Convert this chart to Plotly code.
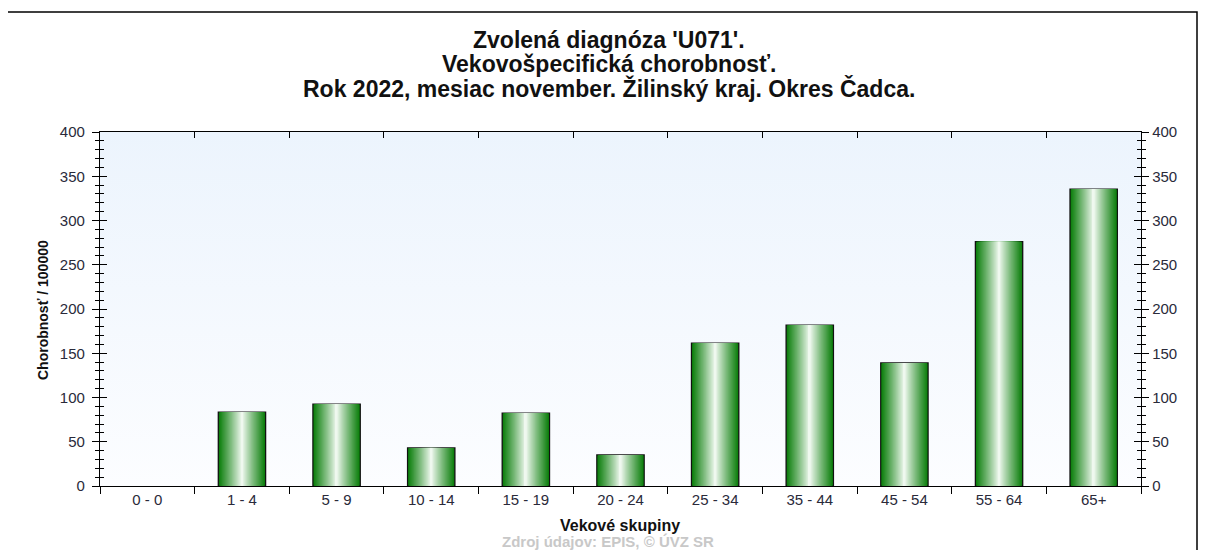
import base64
import plotly.graph_objects as go

# ---- data ----
categories = ["0 - 0", "1 - 4", "5 - 9", "10 - 14", "15 - 19", "20 - 24",
              "25 - 34", "35 - 44", "45 - 54", "55 - 64", "65+"]
values = [0, 83.4, 92.5, 43, 82.3, 35, 161.4, 181.7, 139, 276, 335.5]
y_ticks = [0, 50, 100, 150, 200, 250, 300, 350, 400]

title_lines = ["Zvolená diagnóza 'U071'.",
               "Vekovošpecifická chorobnosť.",
               "Rok 2022, mesiac november. Žilinský kraj. Okres Čadca."]
y_title = "Chorobnosť / 100000"
x_title = "Vekové skupiny"
source_text = "Zdroj údajov: EPIS, © ÚVZ SR"

FONT = "Arial, Liberation Sans, sans-serif"

# the page body has an 8px margin; work in window pixels and shift
OFF = 8
FW, FH = 1208 - OFF, 550 - OFF
# plot area in window pixels
L, R, T, B = 100, 1141, 132, 486
W, H = R - L, B - T


def py(p):
    """window pixel row -> paper y"""
    return (B - p) / H


def px(p):
    """window pixel column -> paper x"""
    return (p - L) / W


fig = go.Figure()

# gradient bars simulated by overlaid bars of decreasing width
N = 26
edge = (10, 125, 10)
center = (252, 255, 252)
outline_w = [0 if v == 0 else 1.3 for v in values]
for k in range(N):
    d = (N - k) / N  # 1 = edge, ~0 = centre
    f = d ** 0.9
    c = tuple(int(round(center[i] + (edge[i] - center[i]) * f)) for i in range(3))
    fig.add_trace(go.Bar(
        x=categories, y=values, width=0.5 * d,
        marker=dict(color=f"rgb{c}",
                    line=dict(color="#111111", width=outline_w if k == 0 else 0)),
        showlegend=False, hoverinfo="skip" if k else "x+y",
    ))

# invisible helper trace for top axis
fig.add_trace(go.Scatter(x=categories, y=[0] * len(categories), xaxis="x2",
                         mode="markers", marker=dict(opacity=0),
                         showlegend=False, hoverinfo="skip"))

# background gradient for plot area
svg = ('<svg xmlns="http://www.w3.org/2000/svg" width="10" height="100" preserveAspectRatio="none">'
       '<defs><linearGradient id="g" x1="0" y1="0" x2="0" y2="1">'
       '<stop offset="0" stop-color="#ecf4fd"/><stop offset="1" stop-color="#fcfdff"/>'
       '</linearGradient></defs><rect width="10" height="100" fill="url(#g)"/></svg>')
svg_uri = "data:image/svg+xml;base64," + base64.b64encode(svg.encode()).decode()

tickfont = dict(family=FONT, size=15, color="#2a2a3a")
common_y = dict(range=[0, 400], tickvals=y_ticks, showgrid=False, zeroline=False,
                tickcolor="black", tickwidth=1, automargin=False)

annotations = []
for line, yp in zip(title_lines, [40, 64, 88]):
    annotations.append(dict(text=f"<b>{line}</b>", xref="paper", yref="paper",
                            x=px(609), y=py(yp), xanchor="center", yanchor="middle",
                            showarrow=False, font=dict(family=FONT, size=23, color="#111")))
annotations.append(dict(text=f"<b>{x_title}</b>", xref="paper", yref="paper",
                        x=px(620), y=py(525), xanchor="center", yanchor="middle",
                        showarrow=False, font=dict(family=FONT, size=16, color="#111")))
annotations.append(dict(text=f"<b>{y_title}</b>", xref="paper", yref="paper",
                        x=px(43), y=py(310), xanchor="center", yanchor="middle",
                        textangle=-90, showarrow=False,
                        font=dict(family=FONT, size=14, color="#111")))
annotations.append(dict(text=f"<b>{source_text}</b>", xref="paper", yref="paper",
                        x=px(608), y=py(541), xanchor="center", yanchor="middle",
                        showarrow=False, font=dict(family=FONT, size=15, color="#c8c8c8")))

fig.update_layout(
    width=FW, height=FH,
    margin=dict(l=L - OFF, r=FW - (R - OFF), t=T - OFF, b=FH - (B - OFF)),
    paper_bgcolor="white", plot_bgcolor="rgba(0,0,0,0)",
    barmode="overlay",
    font=dict(family=FONT),
    images=[dict(source=svg_uri, xref="paper", yref="paper", x=0, y=1,
                 sizex=1, sizey=1, sizing="stretch", layer="below")],
    xaxis=dict(type="category", categoryorder="array", categoryarray=categories,
               range=[-0.5, 10.5], showline=True, linecolor="black", linewidth=1.3,
               ticks="outside", tickson="boundaries", ticklen=7, tickcolor="black",
               tickfont=tickfont, showgrid=False, automargin=False),
    xaxis2=dict(type="category", categoryorder="array", categoryarray=categories,
                range=[-0.5, 10.5], overlaying="x", side="top", showline=True,
                linecolor="black", linewidth=1.3, ticks="inside", tickson="boundaries",
                ticklen=6, tickcolor="black", showticklabels=False, showgrid=False,
                automargin=False),
    yaxis=dict(**common_y, side="left", showline=True, linecolor="black", linewidth=1.3,
               ticks="outside", ticklen=7, tickfont=tickfont, ticklabelstandoff=4,
               minor=dict(dtick=10, ticks="outside", ticklen=4, tickcolor="black", showgrid=False)),
    yaxis3=dict(**common_y, overlaying="y", side="left", showline=False,
                ticks="inside", ticklen=7, showticklabels=False,
                minor=dict(dtick=10, ticks="inside", ticklen=4, tickcolor="black", showgrid=False)),
    yaxis2=dict(**common_y, overlaying="y", side="right", showline=True, linecolor="black",
                linewidth=1.3, ticks="outside", ticklen=7, tickfont=tickfont,
                minor=dict(dtick=10, ticks="outside", ticklen=4, tickcolor="black", showgrid=False)),
    yaxis4=dict(**common_y, overlaying="y", side="right", showline=False,
                ticks="inside", ticklen=7, showticklabels=False,
                minor=dict(dtick=10, ticks="inside", ticklen=4, tickcolor="black", showgrid=False)),
    annotations=annotations,
    shapes=[dict(type="rect", xref="paper", yref="paper",
                 x0=px(7), x1=px(1197), y0=py(570), y1=py(12),
                 line=dict(color="black", width=1.5), fillcolor="rgba(0,0,0,0)",
                 layer="below")],
)

# attach empty traces to the extra y-axes so they render
for ax in ["y2", "y3", "y4"]:
    fig.add_trace(go.Scatter(x=[None], y=[None], yaxis=ax, showlegend=False, hoverinfo="skip"))

fig.write_html("out.html")
